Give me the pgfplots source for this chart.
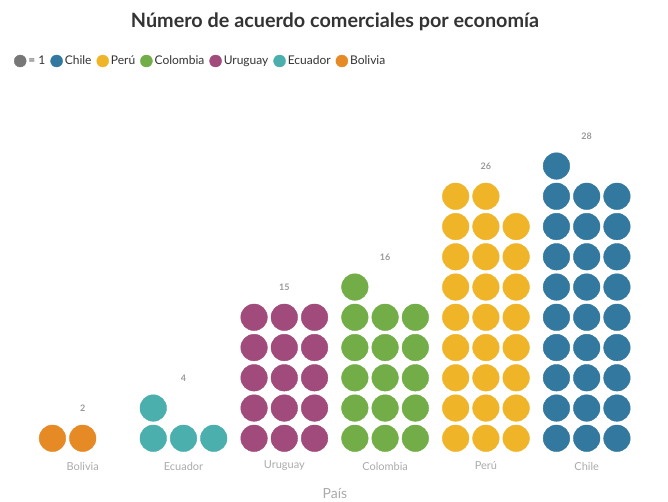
\documentclass[border=0pt]{standalone}
\usepackage{pgfplots}
\pgfplotsset{compat=1.18}
\usepackage{fontspec}
\setmainfont{Lato}
\definecolor{chile}{HTML}{33789F}
\definecolor{peru}{HTML}{F0B429}
\definecolor{colombia}{HTML}{72AD47}
\definecolor{uruguay}{HTML}{A04B7B}
\definecolor{ecuador}{HTML}{4AAFAD}
\definecolor{bolivia}{HTML}{E68A26}
\definecolor{one}{HTML}{777777}
\definecolor{labgray}{HTML}{AAAAAA}
\definecolor{valgray}{HTML}{999999}
\definecolor{titlec}{HTML}{333333}
\pgfplotsset{dotleg/.style={legend image code/.code={\fill[#1] (6bp,0) circle (6bp);}}}
\begin{document}
\begin{tikzpicture}
\begin{axis}[
  at={(0,0)}, anchor=south west,
  scale only axis, width=668bp, height=452bp,
  xmin=-0.8204, xmax=5.8065, ymin=-0.453, ymax=14.489,
  axis line style={draw=none}, tick style={draw=none},
  xtick={0,1,2,3,4,5},
  xticklabels={Bolivia,Ecuador,Uruguay,Colombia,Perú,Chile},
  xticklabel style={font=\fontsize{11bp}{13bp}\selectfont, text=labgray, anchor=center, yshift=-14bp},
  ytick=\empty,
  xlabel={País},
  xlabel style={at={(axis description cs:0.5015,-0.0907)}, anchor=center, font=\fontsize{14bp}{16bp}\selectfont, text=labgray},
  title={\textbf{Número de acuerdo comerciales por economía}},
  title style={at={(axis description cs:0.5015,0.938)}, anchor=center, font=\fontsize{19.8bp}{23bp}\selectfont, text=titlec},
  clip=false,
  legend columns=-1,
  legend style={at={(axis description cs:0.021,0.865)}, anchor=west, draw=none, fill=none,
    font=\fontsize{12bp}{14bp}\selectfont, text=titlec,
    /tikz/every even column/.append style={column sep=3bp},
    inner sep=0pt, outer sep=0pt},
  legend cell align=left,
]
\addlegendimage{dotleg=one}\addlegendentry{= 1}
\addlegendimage{dotleg=chile}\addlegendentry{Chile}
\addlegendimage{dotleg=peru}\addlegendentry{Perú}
\addlegendimage{dotleg=colombia}\addlegendentry{Colombia}
\addlegendimage{dotleg=uruguay}\addlegendentry{Uruguay}
\addlegendimage{dotleg=ecuador}\addlegendentry{Ecuador}
\addlegendimage{dotleg=bolivia}\addlegendentry{Bolivia}
% Bolivia (2)
\addplot[forget plot, only marks, mark=*, mark size=13.3bp, color=bolivia, mark options={draw=none}] coordinates {
 (-0.3,0) (0,0)};
% Ecuador (4)
\addplot[forget plot, only marks, mark=*, mark size=13.3bp, color=ecuador, mark options={draw=none}] coordinates {
 (0.7,0) (1,0) (1.3,0) (0.7,1)};
% Uruguay (15)
\addplot[forget plot, only marks, mark=*, mark size=13.3bp, color=uruguay, mark options={draw=none}] coordinates {
 (1.7,0) (2,0) (2.3,0)
 (1.7,1) (2,1) (2.3,1)
 (1.7,2) (2,2) (2.3,2)
 (1.7,3) (2,3) (2.3,3)
 (1.7,4) (2,4) (2.3,4)};
% Colombia (16)
\addplot[forget plot, only marks, mark=*, mark size=13.3bp, color=colombia, mark options={draw=none}] coordinates {
 (2.7,0) (3,0) (3.3,0)
 (2.7,1) (3,1) (3.3,1)
 (2.7,2) (3,2) (3.3,2)
 (2.7,3) (3,3) (3.3,3)
 (2.7,4) (3,4) (3.3,4)
 (2.7,5)};
% Peru (26)
\addplot[forget plot, only marks, mark=*, mark size=13.3bp, color=peru, mark options={draw=none}] coordinates {
 (3.7,0) (4,0) (4.3,0)
 (3.7,1) (4,1) (4.3,1)
 (3.7,2) (4,2) (4.3,2)
 (3.7,3) (4,3) (4.3,3)
 (3.7,4) (4,4) (4.3,4)
 (3.7,5) (4,5) (4.3,5)
 (3.7,6) (4,6) (4.3,6)
 (3.7,7) (4,7) (4.3,7)
 (3.7,8) (4,8)};
% Chile (28)
\addplot[forget plot, only marks, mark=*, mark size=13.3bp, color=chile, mark options={draw=none}] coordinates {
 (4.7,0) (5,0) (5.3,0)
 (4.7,1) (5,1) (5.3,1)
 (4.7,2) (5,2) (5.3,2)
 (4.7,3) (5,3) (5.3,3)
 (4.7,4) (5,4) (5.3,4)
 (4.7,5) (5,5) (5.3,5)
 (4.7,6) (5,6) (5.3,6)
 (4.7,7) (5,7) (5.3,7)
 (4.7,8) (5,8) (5.3,8)
 (4.7,9)};
% value labels
\addplot[forget plot, only marks, mark=none, point meta=explicit symbolic,
  nodes near coords,
  every node near coord/.append style={anchor=center, font=\bfseries\fontsize{9bp}{10bp}\selectfont, text=valgray}]
 coordinates {(0,1)[2] (1,2)[4] (2,5)[15] (3,6)[16] (4,9)[26] (5,10)[28]};
\end{axis}
\pgfresetboundingbox
\path[use as bounding box] (0,-50bp) rectangle (668bp,452bp);
\end{tikzpicture}
\end{document}
